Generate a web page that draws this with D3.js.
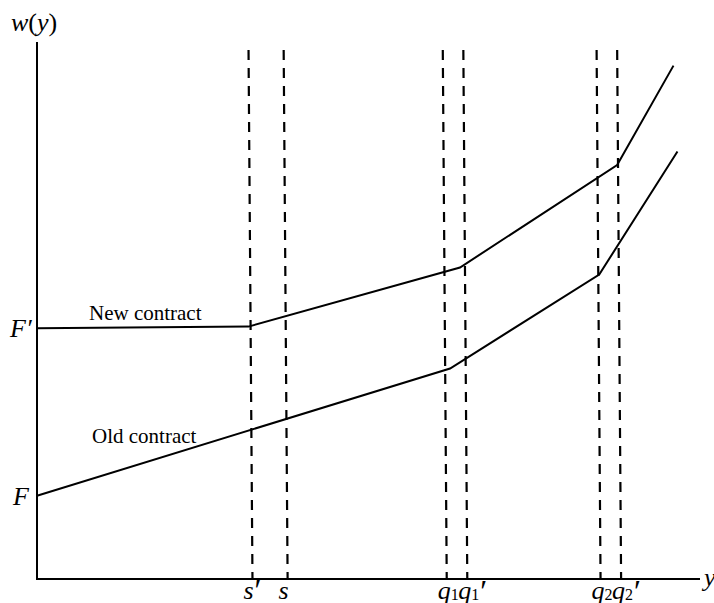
<!DOCTYPE html>
<html>
<head>
<meta charset="utf-8">
<script src="https://cdn.jsdelivr.net/npm/d3@7"></script>
<style>
  body { margin: 0; background: #fff; }
  svg { display: block; }
  text { font-family: "Liberation Serif", "Times New Roman", serif; fill: #000; }
</style>
</head>
<body>
<svg id="chart" width="714" height="603"></svg>
<script>
// schematic units, axes run 0..10 both ways
const oldContract = [[0, 1.55], [6.23, 3.92], [8.48, 5.67], [9.66, 7.96]];
const newContract = [[0, 4.67], [3.19, 4.70], [6.38, 5.80], [8.75, 7.71], [9.60, 9.56]];

// cut points on the y axis (value, symbol, subscript, prime)
const cutValues = [3.25, 3.78, 6.18, 6.49, 8.50, 8.81];
const cutSymbols = ['s', 's', 'q', 'q', 'q', 'q'];
const cutSubs = ['', '', '1', '1', '2', '2'];
const cutPrimes = [true, false, false, true, false, true];

const fixedFees = [1.55, 4.67];
const feeLabels = ['F', 'F′'];

const svg = d3.select('#chart');

const xScale = d3.scaleLinear().domain([0, 10]).range([37, 700]);
const yScale = d3.scaleLinear().domain([0, 10]).range([579, 42]);

const lean = 4; // the dashed guides lean a little in the original

// axes, drawn as plain lines
svg.append('line')
    .attr('x1', xScale(0)).attr('x2', xScale(0))
    .attr('y1', yScale(0)).attr('y2', yScale(10))
    .attr('stroke', '#000').attr('stroke-width', 2);

svg.append('line')
    .attr('x1', xScale(0) - 1).attr('x2', xScale(10))
    .attr('y1', yScale(0)).attr('y2', yScale(0))
    .attr('stroke', '#000').attr('stroke-width', 2);

// dashed guides
svg.selectAll('.guide')
    .data(cutValues)
    .enter()
    .append('line')
    .classed('guide', true)
    .attr('x1', d => xScale(d))
    .attr('x2', d => xScale(d) - lean)
    .attr('y1', yScale(0))
    .attr('y2', yScale(10))
    .attr('stroke', '#000')
    .attr('stroke-width', 2.2)
    .attr('stroke-dasharray', '10,8')
    .attr('stroke-dashoffset', 3);

const line = d3.line()
    .x(d => xScale(d[0]))
    .y(d => yScale(d[1]));

[oldContract, newContract].forEach(data => {
    svg.append('path')
        .datum(data)
        .attr('d', line)
        .attr('fill', 'none')
        .attr('stroke', '#000')
        .attr('stroke-width', 2)
        .attr('stroke-linejoin', 'miter');
});

// curve labels
svg.append('text')
    .attr('x', 89).attr('y', 320)
    .style('font-size', '21px')
    .text('New contract');

svg.append('text')
    .attr('x', 92).attr('y', 443)
    .style('font-size', '21px')
    .text('Old contract');

// fee labels on the y axis
svg.selectAll('.fee')
    .data(fixedFees)
    .enter()
    .append('text')
    .classed('fee', true)
    .attr('x', (d, i) => i === 0 ? 13 : 10)
    .attr('y', d => yScale(d) + 9)
    .style('font-size', '26px')
    .style('font-style', 'italic')
    .text((d, i) => feeLabels[i]);

// axis titles
const wy = svg.append('text')
    .attr('x', 11).attr('y', 31)
    .style('font-size', '26px');
wy.append('tspan').style('font-style', 'italic').text('w');
wy.append('tspan').text('(');
wy.append('tspan').style('font-style', 'italic').text('y');
wy.append('tspan').text(')');

svg.append('text')
    .attr('x', xScale(10) + 4).attr('y', 586)
    .style('font-size', '26px')
    .style('font-style', 'italic')
    .text('y');

// cut point labels under the axis
const cutLabels = svg.selectAll('.cut')
    .data(cutValues)
    .enter()
    .append('text')
    .classed('cut', true)
    .attr('x', d => xScale(d) - 9)
    .attr('y', 599)
    .style('font-size', '26px');

cutLabels.append('tspan')
    .style('font-style', 'italic')
    .text((d, i) => cutSymbols[i]);

cutLabels.append('tspan')
    .attr('dy', 1)
    .style('font-size', '16px')
    .text((d, i) => cutSubs[i]);

cutLabels.append('tspan')
    .attr('dy', 2)
    .attr('dx', -1)
    .style('font-size', '32px')
    .style('font-style', 'italic')
    .text((d, i) => cutPrimes[i] ? '′' : '');
</script>
</body>
</html>
